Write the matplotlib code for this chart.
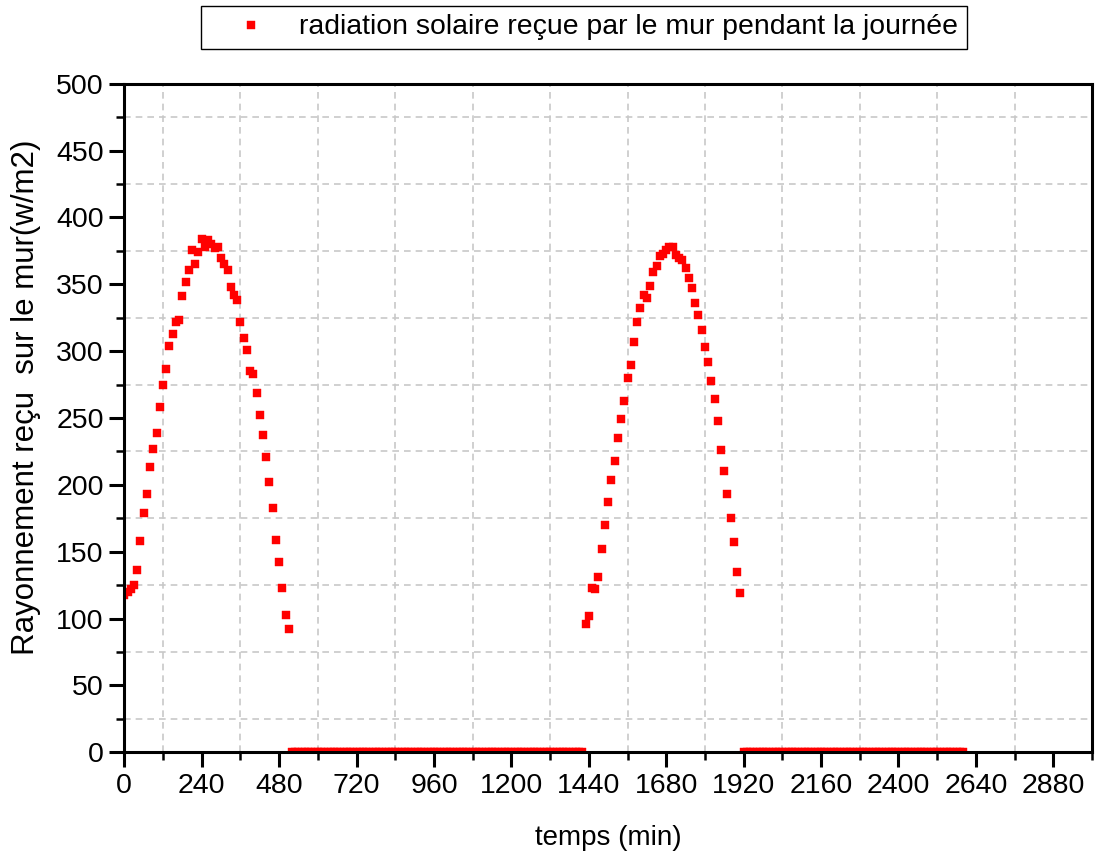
import numpy as np
import matplotlib
matplotlib.use("Agg")
import matplotlib.pyplot as plt
from matplotlib.ticker import MultipleLocator

plt.rcParams['font.family'] = ['Liberation Sans', 'DejaVu Sans']

# Day 1: sunlit period (time in minutes, irradiance in W/m2)
t_day1 = np.arange(0, 520, 10)
q_day1 = [118, 120, 122, 125, 136, 158, 179, 193, 213, 227,
          239, 258, 275, 287, 304, 313, 322, 323, 341, 352,
          361, 376, 365, 374, 384, 378, 383, 380, 377, 378,
          370, 365, 361, 348, 342, 338, 322, 310, 301, 285,
          283, 269, 252, 237, 221, 202, 183, 159, 142, 123,
          103, 92]

# Night between the two days
t_night1 = np.arange(520, 1430, 10)
q_night1 = np.zeros(len(t_night1))

# Day 2: sunlit period
t_day2 = np.arange(1430, 1920, 10)
q_day2 = [96, 102, 123, 122, 131, 152, 170, 187, 204, 218,
          235, 249, 263, 280, 290, 307, 322, 332, 342, 340,
          349, 359, 364, 371, 373, 376, 378, 378, 372, 370,
          368, 362, 355, 347, 336, 327, 316, 303, 292, 278,
          264, 248, 226, 210, 193, 175, 157, 135, 119]

# Second night
t_night2 = np.arange(1920, 2610, 10)
q_night2 = np.zeros(len(t_night2))

t_all = np.concatenate([t_day1, t_night1, t_day2, t_night2])
q_all = np.concatenate([q_day1, q_night1, q_day2, q_night2])

fig = plt.figure(figsize=(10.95, 8.55), dpi=100)
ax = fig.add_axes([124.3 / 1095, 1 - 752.3 / 855,
                   (1092 - 124.3) / 1095, (752.3 - 83.7) / 855])

ax.plot(t_all, q_all, linestyle='none', marker='s', markersize=5.4,
        color='#ff0000', markeredgecolor='#ff0000', markeredgewidth=0.3,
        label='radiation solaire reçue par le mur pendant la journée',
        zorder=3)

ax.set_xlim(0, 3000)
ax.set_ylim(0, 500)
ax.xaxis.set_major_locator(MultipleLocator(240))
ax.xaxis.set_minor_locator(MultipleLocator(120))
ax.yaxis.set_major_locator(MultipleLocator(50))
ax.yaxis.set_minor_locator(MultipleLocator(25))

ax.grid(False, which='major')
ax.grid(True, which='minor', color='#c8c8c8', linestyle=(0, (4, 3)),
        linewidth=1.2)
ax.set_axisbelow(True)

for sp in ax.spines.values():
    sp.set_linewidth(2.2)
    sp.set_zorder(4)

ax.tick_params(which='major', direction='out', length=10.8, width=2.2,
               labelsize=20.5, pad=4, top=False, right=False)
ax.tick_params(which='minor', direction='out', length=5.8, width=1.8,
               top=False, right=False)

fig.text(608 / 1095, 1 - 838 / 855, 'temps (min)', ha='center',
         va='center', fontsize=20)
fig.text(26 / 1095, 1 - 397 / 855, 'Rayonnement reçu  sur le mur(w/m2)',
         ha='center', va='center', rotation=90, fontsize=22.5)

leg = fig.legend(loc='center', bbox_to_anchor=(584 / 1095, 1 - 27.5 / 855),
                 fontsize=20.4, frameon=True, fancybox=False, framealpha=1,
                 edgecolor='black', borderpad=0.3, handlelength=2.9,
                 handletextpad=0.25, borderaxespad=0)
leg.get_frame().set_linewidth(1.0)

fig.savefig('out.png', dpi=100)
